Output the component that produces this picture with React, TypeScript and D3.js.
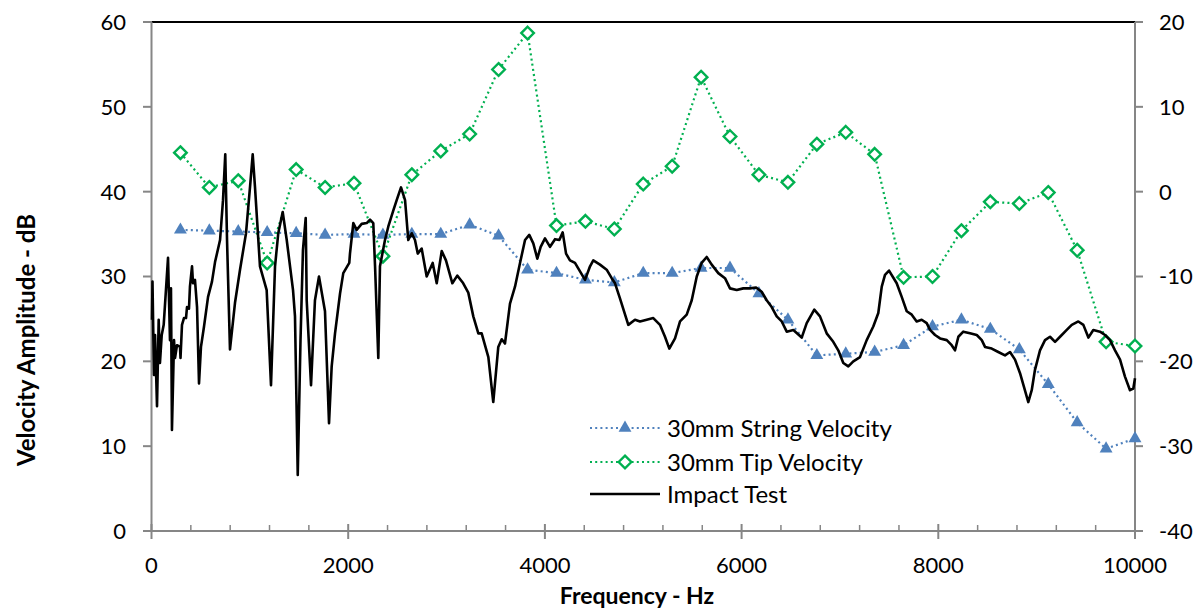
import React from "react";
import * as d3 from "d3";

// Measurement frequencies (Hz) for the two 30mm series
const markerFreqs = [
  294, 588, 882, 1176, 1471, 1765, 2059, 2353, 2647, 2941, 3235, 3529, 3824, 4118, 4412, 4706, 5000,
  5294, 5588, 5882, 6176, 6471, 6765, 7059, 7353, 7647, 7941, 8235, 8529, 8824, 9118, 9412, 9706, 10000,
];

const stringVelocity = [
  35.5, 35.4, 35.3, 35.2, 35.1, 34.9, 35.0, 34.9, 35.0, 35.0, 36.1, 34.8, 30.8, 30.4, 29.6, 29.3, 30.4,
  30.4, 31.0, 31.0, 28.0, 24.9, 20.7, 20.9, 21.1, 21.9, 24.1, 24.9, 23.8, 21.4, 17.3, 12.8, 9.7, 10.9,
];

const tipVelocity = [
  44.6, 40.5, 41.3, 31.6, 42.6, 40.5, 41.0, 32.4, 42.0, 44.8, 46.8, 54.4, 58.7, 36.0, 36.5, 35.6, 40.9,
  43.0, 53.5, 46.5, 42.0, 41.1, 45.6, 47.0, 44.4, 29.9, 30.0, 35.4, 38.8, 38.6, 39.9, 33.1, 22.3, 21.8,
];

// Impact test spectrum (Hz, dB)
const impactFreqs = [
  5, 10, 25, 36, 56, 73, 86, 104, 124, 168, 188, 198, 208, 229, 239, 259, 290, 295, 310, 330, 351, 361,
  381, 391, 412, 422, 442, 463, 483, 503, 534, 575, 615, 646, 697, 727, 750, 768, 798, 849, 900, 961,
  1002, 1029, 1052, 1103, 1171, 1215, 1256, 1289, 1334, 1375, 1439, 1459, 1487, 1515, 1540, 1568, 1578,
  1622, 1662, 1703, 1764, 1805, 1832, 1866, 1917, 1950, 2011, 2018, 2052, 2086, 2137, 2188, 2222, 2255,
  2273, 2306, 2323, 2374, 2408, 2459, 2493, 2537, 2578, 2611, 2646, 2679, 2707, 2747, 2798, 2859, 2900,
  2951, 2994, 3059, 3109, 3164, 3221, 3272, 3323, 3357, 3425, 3475, 3526, 3561, 3594, 3645, 3696, 3747,
  3798, 3841, 3882, 3923, 3957, 4001, 4052, 4103, 4147, 4181, 4215, 4255, 4306, 4357, 4408, 4459, 4492,
  4560, 4628, 4679, 4713, 4764, 4848, 4916, 4967, 5035, 5102, 5170, 5221, 5265, 5323, 5374, 5442, 5493,
  5544, 5594, 5645, 5696, 5763, 5831, 5882, 5950, 6017, 6085, 6147, 6204, 6255, 6306, 6357, 6408, 6459,
  6526, 6611, 6662, 6739, 6797, 6865, 6932, 6983, 7034, 7085, 7136, 7204, 7272, 7339, 7390, 7425, 7458,
  7499, 7577, 7628, 7679, 7730, 7780, 7831, 7882, 7916, 7967, 8018, 8086, 8136, 8170, 8204, 8254, 8322,
  8391, 8442, 8475, 8543, 8610, 8678, 8729, 8780, 8831, 8871, 8915, 8950, 8983, 9034, 9085, 9136, 9187,
  9238, 9306, 9357, 9424, 9475, 9526, 9576, 9644, 9695, 9746, 9797, 9848, 9898, 9949, 9983, 10000,
];

const impactDb = [
  24.9, 29.4, 18.4, 23.1, 14.7, 24.9, 19.8, 23.1, 24.3, 32.2, 22.5, 28.6, 11.9, 22.5, 20.4, 21.9, 21.7,
  20.4, 24.3, 25.1, 25.1, 26.4, 26.2, 28.8, 31.2, 29.2, 29.6, 26.4, 17.4, 21.7, 24.1, 27.6, 29.4, 31.7,
  34.3, 39.0, 44.4, 34.3, 21.4, 26.9, 30.8, 35.1, 40.6, 44.4, 40.6, 31.2, 28.4, 17.2, 31.2, 35.1, 37.6,
  34.3, 28.4, 25.3, 6.6, 22.5, 33.1, 36.9, 27.2, 17.2, 27.2, 30.0, 25.9, 12.7, 19.4, 23.3, 28.0, 30.4,
  31.6, 32.7, 36.3, 35.5, 36.2, 36.3, 36.7, 36.3, 31.2, 20.4, 31.2, 34.3, 35.9, 37.8, 39.0, 40.5, 39.0,
  34.3, 35.1, 34.3, 32.7, 33.3, 30.0, 31.6, 29.2, 33.0, 31.9, 29.2, 30.1, 29.3, 28.1, 25.3, 23.3, 23.3,
  20.5, 15.2, 21.7, 22.6, 22.1, 26.8, 28.8, 31.6, 34.3, 34.9, 33.9, 32.1, 33.5, 34.5, 33.5, 34.4, 34.3,
  35.2, 32.7, 31.9, 31.6, 30.6, 29.6, 31.2, 31.9, 31.4, 30.8, 29.8, 29.2, 27.4, 24.3, 24.9, 24.7, 24.9,
  25.1, 24.3, 22.9, 21.5, 22.7, 24.7, 25.5, 27.2, 30.0, 31.6, 32.3, 31.4, 30.4, 29.8, 28.6, 28.4, 28.6,
  28.6, 28.7, 28.2, 27.2, 26.4, 25.3, 24.7, 23.5, 23.7, 22.8, 24.5, 26.1, 25.3, 23.3, 22.3, 21.3, 19.8,
  19.4, 20.0, 20.5, 22.5, 24.1, 25.7, 28.8, 30.2, 30.7, 29.2, 27.6, 25.9, 25.5, 24.7, 24.9, 24.5, 23.7,
  23.1, 22.7, 22.5, 21.9, 21.3, 22.9, 23.5, 23.3, 23.1, 22.5, 21.7, 21.5, 21.1, 20.7, 21.1, 20.2, 18.6,
  17.0, 15.2, 16.6, 19.0, 21.3, 22.5, 22.9, 22.3, 22.9, 23.7, 24.3, 24.7, 24.3, 22.8, 23.7, 23.5, 23.1,
  22.5, 21.3, 20.2, 18.2, 16.6, 16.8, 18.0,
];

const xTicks = [0, 2000, 4000, 6000, 8000, 10000];
const leftTicks = [0, 10, 20, 30, 40, 50, 60];
const rightTicks = [-40, -30, -20, -10, 0, 10, 20];
const seriesNames = ["30mm String Velocity", "30mm Tip Velocity", "Impact Test"];

const W = 1199;
const H = 610;
const FONT = "Lato, 'Open Sans', sans-serif";
const AXIS = "#868686";
const BLUE = "#4F81BD";
const GREEN = "#00B050";
const TICK_FS = 22;
const LEGEND_FS = 24;
const TITLE_FS = 23;

export default function App() {
  const x = d3.scaleLinear().domain([0, 10000]).range([151.5, 1135]);
  const yL = d3.scaleLinear().domain([0, 60]).range([531, 22]);
  const yR = d3.scaleLinear().domain([-40, 20]).range([531, 22]);

  const stringData = markerFreqs.map((f, i) => [f, stringVelocity[i]] as [number, number]);
  const tipData = markerFreqs.map((f, i) => [f, tipVelocity[i]] as [number, number]);
  const impactData = impactFreqs.map((f, i) => [f, impactDb[i]] as [number, number]);

  const line = d3
    .line<[number, number]>()
    .x((d) => x(d[0]))
    .y((d) => yL(d[1]));

  const tri = d3.symbol().type(d3.symbolTriangle).size(72)() as string;
  const diamondPath = "M0,-6.3L6.3,0L0,6.3L-6.3,0Z";

  const minorTicks = d3.range(0, 10001, 400).filter((v) => v % 2000 !== 0);

  const legendX = 590;
  const legendRows = [428, 462, 494];

  return (
    <svg
      width={W}
      height={H}
      style={{ position: "absolute", left: 0, top: 0, background: "#fff" }}
      fontFamily={FONT}
    >
      <rect x={0} y={0} width={W} height={H} fill="#fff" />

      {/* top secondary axis line */}
      <line x1={x(0)} x2={x(10000)} y1={22} y2={22} stroke="#000" strokeWidth={2} />

      {/* left axis */}
      <line x1={x(0)} x2={x(0)} y1={22} y2={531} stroke={AXIS} strokeWidth={2} />
      {leftTicks.map((t) => (
        <g key={"l" + t}>
          <line x1={143} x2={x(0)} y1={yL(t)} y2={yL(t)} stroke={AXIS} strokeWidth={2} />
          <text x={126} y={yL(t)} dy="0.36em" textAnchor="end" fontSize={TICK_FS} fill="#000">
            {t}
          </text>
        </g>
      ))}

      {/* right axis */}
      <line x1={x(10000)} x2={x(10000)} y1={22} y2={531} stroke={AXIS} strokeWidth={2} />
      {rightTicks.map((t) => (
        <g key={"r" + t}>
          <line x1={x(10000)} x2={1143} y1={yR(t)} y2={yR(t)} stroke={AXIS} strokeWidth={2} />
          <text x={1159} y={yR(t)} dy="0.36em" textAnchor="start" fontSize={TICK_FS} fill="#000">
            {t}
          </text>
        </g>
      ))}

      {/* bottom axis */}
      <line x1={x(0)} x2={x(10000)} y1={531} y2={531} stroke={AXIS} strokeWidth={2} />
      {minorTicks.map((t) => (
        <line key={"m" + t} x1={x(t)} x2={x(t)} y1={525} y2={531} stroke={AXIS} strokeWidth={1.5} />
      ))}
      {xTicks.map((t) => (
        <g key={"x" + t}>
          <line x1={x(t)} x2={x(t)} y1={524} y2={539} stroke={AXIS} strokeWidth={2} />
          <text x={x(t)} y={573} textAnchor="middle" fontSize={TICK_FS} fill="#000">
            {t}
          </text>
        </g>
      ))}

      {/* axis titles */}
      <text x={637} y={604} textAnchor="middle" fontSize={TITLE_FS} fontWeight="bold" fill="#000">
        Frequency - Hz
      </text>
      <text
        transform={`translate(35,340) rotate(-90)`}
        textAnchor="middle"
        fontSize={24}
        fontWeight="bold"
        fill="#000"
      >
        Velocity Amplitude - dB
      </text>

      {/* string velocity */}
      <path d={line(stringData) || ""} fill="none" stroke={BLUE} strokeWidth={2.2} strokeDasharray="2 3.2" />
      {stringData.map((d, i) => (
        <path key={"s" + i} d={tri} transform={`translate(${x(d[0])},${yL(d[1])})`} fill={BLUE} />
      ))}

      {/* tip velocity */}
      <path d={line(tipData) || ""} fill="none" stroke={GREEN} strokeWidth={2.2} strokeDasharray="2 3.2" />
      {tipData.map((d, i) => (
        <path
          key={"t" + i}
          d={diamondPath}
          transform={`translate(${x(d[0])},${yL(d[1])})`}
          fill="#fff"
          stroke={GREEN}
          strokeWidth={2.4}
        />
      ))}

      {/* impact test */}
      <path
        d={line(impactData) || ""}
        fill="none"
        stroke="#000"
        strokeWidth={2.6}
        strokeLinejoin="round"
      />

      {/* legend */}
      <g>
        <line x1={legendX} x2={legendX + 70} y1={legendRows[0]} y2={legendRows[0]} stroke={BLUE} strokeWidth={2.2} strokeDasharray="2 3.2" />
        <path d={tri} transform={`translate(${legendX + 35},${legendRows[0]})`} fill={BLUE} />
        <line x1={legendX} x2={legendX + 70} y1={legendRows[1]} y2={legendRows[1]} stroke={GREEN} strokeWidth={2.2} strokeDasharray="2 3.2" />
        <path d={diamondPath} transform={`translate(${legendX + 35},${legendRows[1]})`} fill="#fff" stroke={GREEN} strokeWidth={2.4} />
        <line x1={legendX} x2={legendX + 70} y1={legendRows[2]} y2={legendRows[2]} stroke="#000" strokeWidth={2.6} />
        {seriesNames.map((n, i) => (
          <text key={n} x={legendX + 77} y={legendRows[i]} dy="0.36em" fontSize={LEGEND_FS} fill="#000">
            {n}
          </text>
        ))}
      </g>
    </svg>
  );
}
